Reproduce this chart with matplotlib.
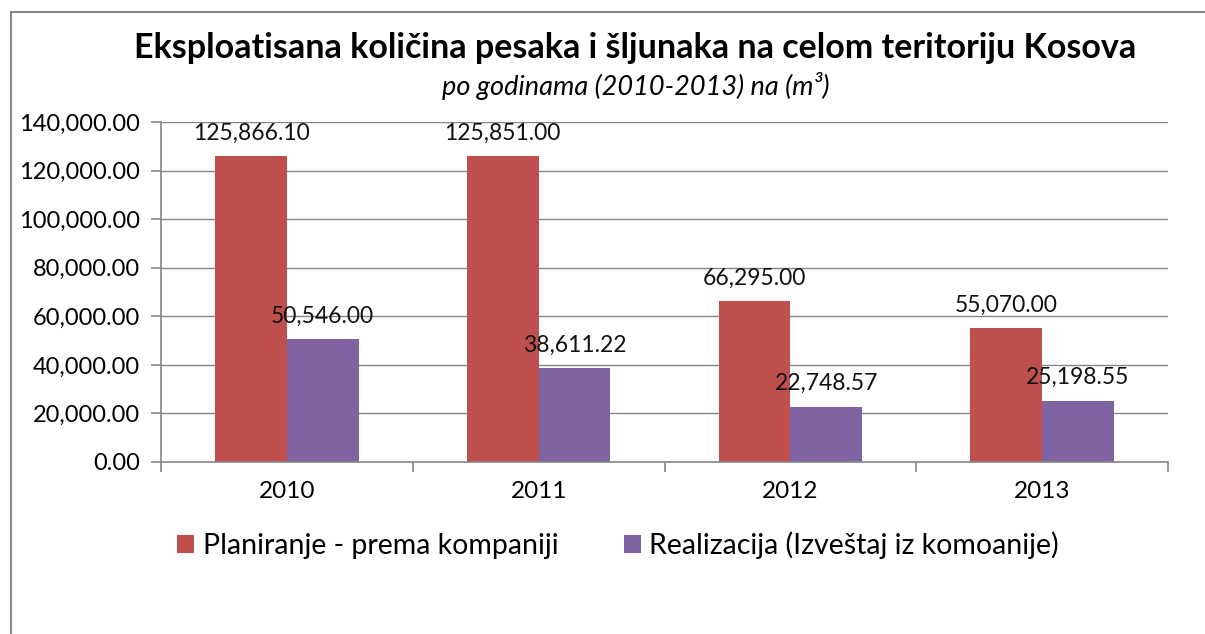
import matplotlib.pyplot as plt
from matplotlib.patches import Rectangle
import numpy as np

plt.rcParams['font.family'] = ['Lato', 'DejaVu Sans']

years = ["2010", "2011", "2012", "2013"]
planned = [125866.10, 125851.00, 66295.00, 55070.00]
realized = [50546.00, 38611.22, 22748.57, 25198.55]
series_names = ["Planiranje - prema kompaniji", "Realizacija (Izveštaj iz komoanije)"]
colors = ["#C0504D", "#8064A2"]
grid_color = "#868686"

fig = plt.figure(figsize=(12.05, 6.34), dpi=100)
ax = fig.add_axes([161 / 1205, 1 - 462 / 634, (1168 - 161) / 1205, (462 - 122) / 634])

# outer chart frame (runs off the right and bottom edges)
fig.patches.append(Rectangle((11 / 1205, -0.1), 1.2, 1 - 12 / 634 + 0.1, transform=fig.transFigure,
                             fill=False, edgecolor="#888888", linewidth=1.5))

x = np.arange(len(years))
w = 0.285
b1 = ax.bar(x - w / 2, planned, w, color=colors[0], label=series_names[0])
b2 = ax.bar(x + w / 2, realized, w, color=colors[1], label=series_names[1])

for bars, vals in ((b1, planned), (b2, realized)):
    for bar, v in zip(bars, vals):
        ax.annotate(f"{v:,.2f}", (bar.get_x() + bar.get_width() / 2, v),
                    xytext=(0, 9), textcoords="offset points",
                    ha="center", va="bottom", fontsize=16.5, color="#111111")

ax.set_xlim(-0.5, len(years) - 0.5)
ax.set_ylim(0, 140000)
ax.set_yticks(np.arange(0, 140001, 20000))
ax.yaxis.set_major_formatter(plt.FuncFormatter(lambda v, p: f"{v:,.2f}"))
ax.set_xticks(x)
ax.set_xticklabels(years)
ax.set_xticks(np.arange(-0.5, len(years), 1), minor=True)
ax.tick_params(axis="x", which="major", length=0, pad=14, labelsize=17.5)
ax.tick_params(axis="x", which="minor", length=7, color=grid_color, width=1.2)
ax.tick_params(axis="y", length=7, color=grid_color, width=1.2, labelsize=17, pad=8)

ax.grid(axis="y", color=grid_color, linewidth=1)
ax.set_axisbelow(True)
for s in ("top", "right"):
    ax.spines[s].set_visible(False)
for s in ("left", "bottom"):
    ax.spines[s].set_color(grid_color)
    ax.spines[s].set_linewidth(1.2)

fig.text(635 / 1205, 1 - 48 / 634, "Eksploatisana količina pesaka i šljunaka na celom teritoriju Kosova",
         ha="center", va="center", fontsize=24.5, fontweight="bold")
fig.text(636 / 1205, 1 - 86 / 634, "po godinama (2010-2013) na (m³)",
         ha="center", va="center", fontsize=19.5, style="italic")

fig.legend(loc="center", bbox_to_anchor=(618 / 1205, 1 - 545 / 634), ncol=2, frameon=False,
           fontsize=20.5, handlelength=0.6, handleheight=0.6, handletextpad=0.3, columnspacing=2.3)

fig.savefig("out.png", dpi=100)
